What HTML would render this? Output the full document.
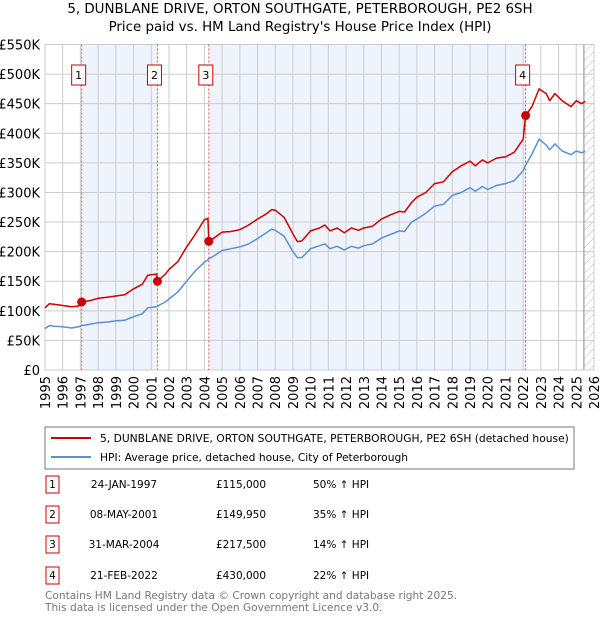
<!DOCTYPE html>
<html><head><meta charset="utf-8"><style>
body{margin:0;background:#fff;font-family:"DejaVu Sans",sans-serif;}
svg text{font-family:"DejaVu Sans","Liberation Sans",sans-serif;}
</style></head><body>
<svg id="c" width="600" height="620" xmlns="http://www.w3.org/2000/svg">
<defs><pattern id="hatch" width="6" height="6" patternUnits="userSpaceOnUse" patternTransform="rotate(45)"><line x1="0" y1="0" x2="0" y2="6" stroke="#bbb" stroke-width="1"/></pattern></defs>
<text x="300" y="13" text-anchor="middle" font-size="13.4">5, DUNBLANE DRIVE, ORTON SOUTHGATE, PETERBOROUGH, PE2 6SH</text>
<text x="300" y="31" text-anchor="middle" font-size="13.4">Price paid vs. HM Land Registry's House Price Index (HPI)</text>
<g id="plot"></g>
<rect x="45" y="427" width="529" height="42" fill="#fff" stroke="#777"/>
<line x1="51" y1="438" x2="91" y2="438" stroke="#cc0000" stroke-width="2"/>
<text x="100" y="442" font-size="10.7">5, DUNBLANE DRIVE, ORTON SOUTHGATE, PETERBOROUGH, PE2 6SH (detached house)</text>
<line x1="51" y1="457" x2="91" y2="457" stroke="#5b8fd4" stroke-width="2"/>
<text x="100" y="461" font-size="10.7">HPI: Average price, detached house, City of Peterborough</text>
<g id="table"></g>
<text x="45" y="599" font-size="10.6" fill="#777">Contains HM Land Registry data © Crown copyright and database right 2025.</text>
<text x="45" y="611" font-size="10.6" fill="#777">This data is licensed under the Open Government Licence v3.0.</text>
</svg>
<script>
const dates=[1995.0,1995.25,1995.5,1996.0,1996.5,1996.9,1997.07,1997.5,1998.0,1998.5,1999.0,1999.5,2000.0,2000.5,2000.8,2001.3,2001.35,2001.8,2002.0,2002.5,2003.0,2003.5,2004.0,2004.2,2004.25,2004.5,2005.0,2005.5,2006.0,2006.5,2007.0,2007.5,2007.8,2008.0,2008.5,2009.0,2009.25,2009.5,2010.0,2010.5,2010.8,2011.1,2011.5,2011.9,2012.3,2012.7,2013.0,2013.5,2014.0,2014.5,2015.0,2015.3,2015.7,2016.0,2016.5,2017.0,2017.5,2018.0,2018.5,2019.0,2019.3,2019.7,2020.0,2020.5,2021.0,2021.5,2022.0,2022.14,2022.5,2022.9,2023.3,2023.5,2023.8,2024.2,2024.7,2025.0,2025.3,2025.5];
const hpiValues=[70,75,74,73,71,73,75,77,80,81,83,84,90,95,105,107,108,115,120,132,150,168,182,186,188,192,202,205,208,213,222,232,238,236,226,200,190,190,205,210,213,205,209,203,209,206,210,213,223,229,235,234,250,255,265,277,280,295,300,308,302,310,305,312,315,320,337,346,365,390,380,372,382,370,364,370,367,370];
const priceValues=[105,112,111,109,107,108,115,117,121,123,125,127,137,145,160,162,150,162,170,183,208,230,254,256,218,222,233,234,237,245,255,264,271,270,258,230,217,218,235,240,245,235,240,232,240,236,240,243,255,262,268,267,283,292,300,315,318,335,345,353,345,355,350,358,360,368,390,430,445,475,467,455,467,455,445,455,450,454];
const saleDates=[1997.07,2001.35,2004.25,2022.14];
const salePrices=[115,149.95,217.5,430];
const saleLabels=["1","2","3","4"];
const saleDateText=["24-JAN-1997","08-MAY-2001","31-MAR-2004","21-FEB-2022"];
const salePriceText=["£115,000","£149,950","£217,500","£430,000"];
const saleHpiText=["50% ↑ HPI","35% ↑ HPI","14% ↑ HPI","22% ↑ HPI"];
const yTicks=[0,50,100,150,200,250,300,350,400,450,500,550];
const yTickLabels=["£0","£50K","£100K","£150K","£200K","£250K","£300K","£350K","£400K","£450K","£500K","£550K"];
const xTicks=[1995,1996,1997,1998,1999,2000,2001,2002,2003,2004,2005,2006,2007,2008,2009,2010,2011,2012,2013,2014,2015,2016,2017,2018,2019,2020,2021,2022,2023,2024,2025,2026];
const hatchStart=2025.43;

const NS="http://www.w3.org/2000/svg";
const X0=45,X1=594,Y0=370,Y1=44.5;
const xs=v=>X0+(v-1995)/(2026-1995)*(X1-X0);
const ys=v=>Y0-v/550*(Y0-Y1);
const plot=document.getElementById('plot');
function mk(tag,attrs,parent){const e=document.createElementNS(NS,tag);for(const k in attrs)e.setAttribute(k,attrs[k]);(parent||plot).appendChild(e);return e;}
for(let i=0;i<saleDates.length-1;i+=2){
  const r=mk('rect',{x:xs(saleDates[i]),y:Y1,width:xs(saleDates[i+1])-xs(saleDates[i]),height:Y0-Y1,fill:'#eef3fc'});
  
  
}
const hz=mk('rect',{x:xs(hatchStart),y:Y1,width:X1-xs(hatchStart),height:Y0-Y1,fill:'url(#hatch)'});


yTicks.forEach((t,i)=>{
  const l=mk('line',{x1:X0,x2:X1,y1:ys(t),y2:ys(t),stroke:'#cccccc','stroke-width':1});
  
  
  const tx=mk('text',{x:X0-5,y:ys(t)+5,'text-anchor':'end','font-size':13});
  tx.textContent=yTickLabels[i];
  
  
});
xTicks.forEach(t=>{
  const l=mk('line',{x1:xs(t),x2:xs(t),y1:Y1,y2:Y0,stroke:'#cccccc','stroke-width':1});
  
  
  const tx=mk('text',{x:0,y:0,'text-anchor':'end','font-size':13,transform:`translate(${xs(t)+5},376) rotate(-90)`});
  tx.textContent=String(t);
  
  
});
const hl=mk('line',{x1:xs(hatchStart),x2:xs(hatchStart),y1:Y1,y2:Y0,stroke:'#888','stroke-width':1});


const bd=mk('rect',{x:X0,y:Y1,width:X1-X0,height:Y0-Y1,fill:'none',stroke:'#cccccc'});


saleDates.forEach((d,i)=>{
  const l=mk('line',{x1:xs(d),x2:xs(d),y1:Y1,y2:Y0,stroke:'#e05050','stroke-width':1,'stroke-dasharray':'2,2'});
  
  
  const bx=mk('rect',{x:xs(d)-10,y:65,width:14,height:20,fill:'#fff',stroke:'#cc0000'});
  
  
  const t=mk('text',{x:xs(d)-3,y:79,'text-anchor':'middle','font-size':11});
  t.textContent=saleLabels[i];
  
  
});
const ptsH=dates.map((d,i)=>xs(d).toFixed(1)+','+ys(hpiValues[i]).toFixed(1)).join(' ');
const ph=mk('polyline',{points:ptsH,fill:'none',stroke:'#5b8fd4','stroke-width':1.5,'stroke-linejoin':'round'});


const ptsP=dates.map((d,i)=>xs(d).toFixed(1)+','+ys(priceValues[i]).toFixed(1)).join(' ');
const pp=mk('polyline',{points:ptsP,fill:'none',stroke:'#cc0000','stroke-width':1.5,'stroke-linejoin':'round'});


saleDates.forEach((d,i)=>{
  const c=mk('circle',{cx:xs(d),cy:ys(salePrices[i]),r:4.5,fill:'#cc0000'});
  
  
});
const tb=document.getElementById('table');
const rowY=[488,518,548,579];
saleLabels.forEach((lab,i)=>{
  const y=rowY[i];
  const b=mk('rect',{x:46,y:y-12,width:13,height:17,fill:'#fff',stroke:'#cc0000'},tb);
  
  
  const cells=[[52.5,lab,'middle'],[124,saleDateText[i],'middle'],[241,salePriceText[i],'middle'],[313,saleHpiText[i],'start']];
  cells.forEach((c,j)=>{
    const t=mk('text',{x:c[0],y:y,'text-anchor':c[2],'font-size':10.5},tb);
    t.textContent=c[1];
    
    
  });
});
</script>
</body></html>
